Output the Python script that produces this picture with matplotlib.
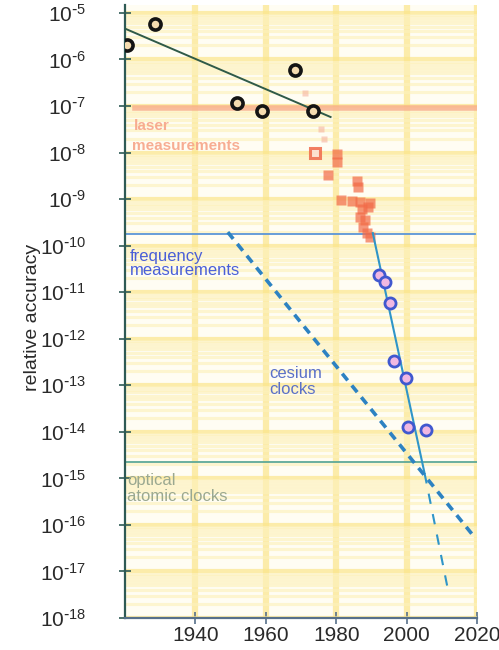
import numpy as np
import matplotlib
matplotlib.use('Agg')
import matplotlib.pyplot as plt
from matplotlib.ticker import LogLocator, NullFormatter, FixedLocator

plt.rcParams['font.family'] = ['Liberation Sans', 'DejaVu Sans']
plt.rcParams['mathtext.default'] = 'regular'

# ---------------- data ----------------
early_years = [1920.5, 1928.5, 1951.8, 1958.9, 1968.2, 1973.3]
early_acc = [2.0e-6, 5.8e-6, 1.15e-7, 7.8e-8, 5.9e-7, 7.8e-8]

early_fit_years = [1920.0, 1978.4]
early_fit_acc = [4.6e-6, 5.8e-8]

laser_years = [1980.1, 1980.3, 1977.6, 1985.8, 1986.1, 1981.5, 1984.4, 1986.7,
               1989.5, 1987.2, 1988.9, 1986.7, 1988.1, 1987.5, 1988.7, 1989.5]
laser_acc = [9.5e-9, 6.3e-9, 3.3e-9, 2.45e-9, 1.82e-9, 9.5e-10, 9.1e-10, 8.7e-10,
             8.1e-10, 6.0e-10, 6.8e-10, 4.1e-10, 3.55e-10, 2.5e-10, 1.86e-10, 1.5e-10]
laser_open_years = [1973.9]
laser_open_acc = [9.8e-9]
laser_faint_years = [1971.1, 1975.6, 1976.5]
laser_faint_acc = [1.9e-7, 3.2e-8, 1.95e-8]

cesium_years = [1992.3, 1993.8, 1995.2, 1996.3, 1999.7, 2000.3, 2005.4]
cesium_acc = [2.34e-11, 1.66e-11, 6.0e-12, 3.3e-13, 1.41e-13, 1.26e-14, 1.12e-14]

cesium_trend_years = [1990.4, 2005.1]
cesium_trend_acc = [1.86e-10, 1.29e-15]
cesium_extrap_years = [2005.1, 2011.6]
cesium_extrap_acc = [1.29e-15, 4.6e-18]

freq_trend_years = [1949.2, 2019.6]
freq_trend_acc = [1.95e-10, 5.1e-17]

laser_level = 9.1e-8
freq_level = 1.78e-10
optical_level = 2.2e-15

year_ticks = [1940, 1960, 1980, 2000, 2020]
decade_exps = list(range(-18, -4))

# ---------------- figure ----------------
fig = plt.figure(figsize=(4.99, 6.5), dpi=100)
ax = fig.add_axes([125/499, 32/650, 352/499, 613/650])
ax.set_facecolor('#fffdf3')
ax.set_yscale('log')
ax.set_xlim(1920, 2020)
ax.set_ylim(1e-18, 10**-4.83)

ax.set_axisbelow(True)
ax.xaxis.set_major_locator(FixedLocator(year_ticks))
ax.yaxis.set_major_locator(FixedLocator([10.0**e for e in decade_exps]))
ax.yaxis.set_minor_locator(LogLocator(base=10, subs=np.arange(2, 10), numticks=100))
ax.yaxis.set_minor_formatter(NullFormatter())
ax.set_yticklabels([r'$10^{\text{-}%d}$' % abs(e) for e in decade_exps])

ax.grid(True, which='major', axis='x', color='#fbe58c', lw=4.5, alpha=0.7)
ax.grid(True, which='major', axis='y', color='#fbe58c', lw=3, alpha=0.7)
ax.grid(True, which='minor', axis='y', color='#fdf1bc', lw=2.2, alpha=0.65)

for s in ['top', 'right']:
    ax.spines[s].set_visible(False)
ax.spines['left'].set_color('#2e5a55')
ax.spines['left'].set_linewidth(1.6)
ax.spines['bottom'].set_color('#56708a')
ax.spines['bottom'].set_linewidth(1.6)

ax.tick_params(axis='y', which='major', direction='inout', length=8, width=1.2,
               color='#2e5a55', labelsize=15, labelcolor='#2a2a2a', pad=24)
ax.tick_params(axis='y', which='minor', length=0)
ax.tick_params(axis='x', which='major', direction='inout', length=9, width=1.2,
               color='#56708a', labelsize=15, labelcolor='#2a2a2a', pad=1.5)

ax.set_ylabel('relative accuracy', fontsize=14, color='#2a2a2a')
ax.yaxis.set_label_coords(-0.24, 0.49)

# horizontal levels
ax.plot([1922.8, 2020], [laser_level]*2, color='#f8a487', lw=4, alpha=0.7, zorder=2)
ax.plot([1920, 2019.5], [freq_level]*2, color='#5b95d8', lw=1.3, zorder=2)
ax.plot([1920, 2020], [optical_level]*2, color='#5ea898', lw=1.3, zorder=2)

# early fit
ax.plot(early_fit_years, early_fit_acc, color='#2f5a48', lw=1.4, zorder=3)

# laser measurements
ax.plot(laser_faint_years, laser_faint_acc, 's', ms=5, color='#f6b3a0', alpha=0.6,
        mec='none', zorder=3)
ax.plot(laser_years, laser_acc, 's', ms=7, color='#f26a48', alpha=0.7, mec='none', zorder=4)
ax.plot(laser_open_years, laser_open_acc, 's', ms=7, mfc='#fde0d5', mec='#f06a4a',
        mew=2.2, alpha=0.85, zorder=4)

# trends
ax.plot(cesium_trend_years, cesium_trend_acc, color='#2f95c8', lw=1.5, zorder=4)
ax.plot(cesium_extrap_years, cesium_extrap_acc, color='#2f95c8', lw=1.5,
        ls=(0, (5, 5)), zorder=4)
ax.plot(freq_trend_years, freq_trend_acc, color='#2d82c2', lw=2.6,
        ls=(0, (2.4, 1.8)), zorder=4)

# early points
ax.plot(early_years, early_acc, 'o', ms=8, mfc='#f5dcb0', mec='#141414', mew=2.6, zorder=6)

# cesium clocks
ax.plot(cesium_years, cesium_acc, 'o', ms=8, mfc='#f0b8e2', mec='#4058cf', mew=2.0, zorder=6)

# labels
ax.text(1927.7, 10**-7.42, 'laser', fontsize=11, fontweight='bold', color='#f7a488',
        ha='center', va='center', alpha=0.9)
ax.text(1937.3, 10**-7.85, 'measurements', fontsize=11, fontweight='bold',
        color='#f7a488', ha='center', va='center', alpha=0.9)
ax.text(1921.4, 10**-10.39, 'frequency\nmeasurements', fontsize=12, color='#4a5fd8',
        ha='left', va='center', linespacing=0.95)
ax.text(1960.9, 10**-12.92, 'cesium\nclocks', fontsize=12, color='#5a70c8',
        ha='left', va='center', linespacing=1.15)
ax.text(1920.6, 10**-15.22, 'optical\natomic clocks', fontsize=12, color='#9aa890',
        ha='left', va='center', linespacing=1.1)

fig.savefig('out.png', dpi=100)
